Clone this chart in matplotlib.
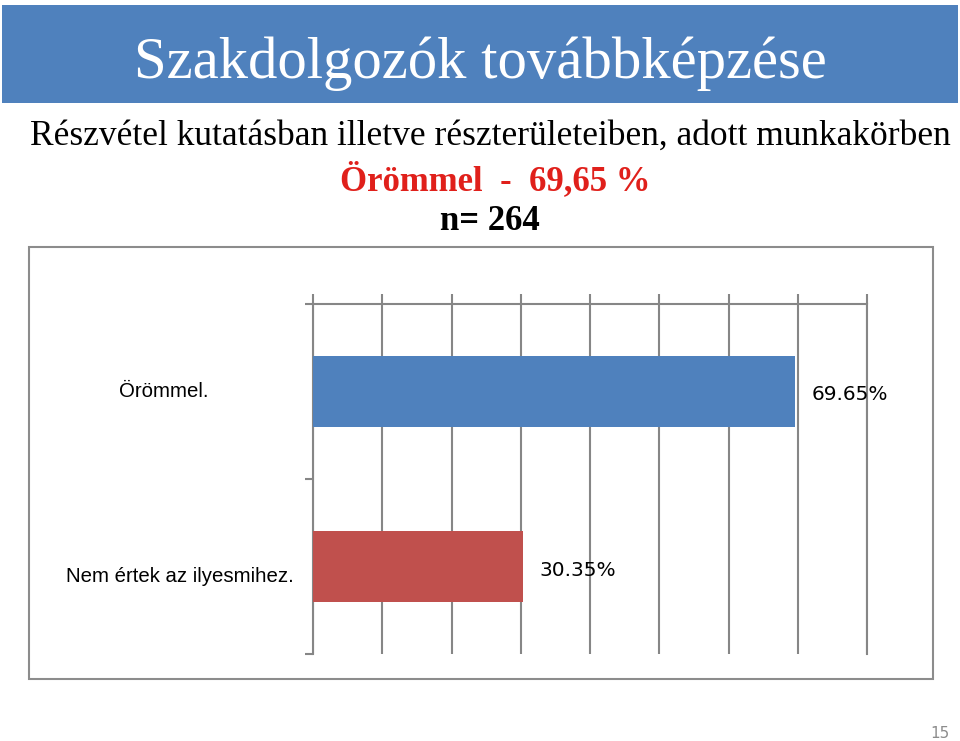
import numpy as np
import matplotlib.pyplot as plt
from matplotlib.patches import Rectangle

# data
categories = ["Örömmel.", "Nem értek az ilyesmihez."]
values = [0.6965, 0.3035]
value_labels = ["69.65%", "30.35%"]
bar_colors = ["#4F81BD", "#C0504D"]

title = "Szakdolgozók továbbképzése"
subtitle = "Részvétel kutatásban illetve részterületeiben, adott munkakörben"
highlight = "Örömmel  -  69,65 %"
sample = "n= 264"

W, H = 960, 741

def fx(x):
    return x / W

def fy(y):
    return 1 - y / H

fig = plt.figure(figsize=(9.6, 7.41), dpi=100)
fig.patch.set_facecolor("white")

# header band
fig.patches.append(Rectangle((fx(2), fy(103)), fx(956), (98) / H,
                             transform=fig.transFigure, facecolor="#4F81BD",
                             edgecolor="none", zorder=0))
fig.text(fx(480), fy(78), title, ha="center", va="baseline", color="white",
         fontsize=42.3, family="Liberation Serif")

fig.text(fx(490), fy(145), subtitle, ha="center", va="baseline", color="black",
         fontsize=25.5, family="Liberation Serif")
fig.text(fx(495), fy(190), highlight, ha="center", va="baseline", color="#E0201B",
         fontsize=25, fontweight="bold", family="Liberation Serif")
fig.text(fx(490), fy(230), sample, ha="center", va="baseline", color="black",
         fontsize=25, fontweight="bold", family="Liberation Serif")

# chart frame
fig.patches.append(Rectangle((fx(29), fy(679)), fx(904), (432) / H,
                             transform=fig.transFigure, facecolor="none",
                             edgecolor="#8C8C8C", linewidth=1.5, zorder=0))

ax_l, ax_r = 313, 867
ax = fig.add_axes([fx(ax_l), fy(654), fx(ax_r - ax_l), (654 - 304) / H])
y = np.arange(len(categories))
ax.barh(y, values, height=0.41, color=bar_colors, zorder=3)

ax.set_xlim(0, 0.8)
ax.set_ylim(1.5, -0.5)
ax.set_xticks(np.arange(0, 0.81, 0.1))
ax.set_yticks([-0.5, 0.5, 1.5])
ax.xaxis.tick_top()
ax.tick_params(axis="x", direction="out", length=7, width=1.5, color="#868686",
               labeltop=False, labelbottom=False)
ax.tick_params(axis="y", direction="out", length=6, width=1.5, color="#868686",
               labelleft=False)
ax.grid(axis="x", color="#868686", linewidth=1.5, zorder=0)
ax.spines["bottom"].set_visible(False)
for s in ["top", "left", "right"]:
    ax.spines[s].set_color("#868686")
    ax.spines[s].set_linewidth(1.5)

# value labels
for yi, v, lab in zip(y, values, value_labels):
    ax.text(v + 0.023, yi + 0.02, lab, ha="left", va="center", fontsize=14.5,
            family="DejaVu Sans")

# category labels (x in pixels, converted to axes fraction)
cat_x = [164, 180]
cat_off = [0.0, 0.06]
for yi, lab, cx, off in zip(y, categories, cat_x, cat_off):
    ax.text((cx - ax_l) / (ax_r - ax_l), yi + off, lab,
            transform=ax.get_yaxis_transform(),
            ha="center", va="center", fontsize=14.7, family="Liberation Sans")

fig.text(fx(940), fy(738), "15", ha="center", va="baseline", color="#8C8C8C",
         fontsize=11, family="DejaVu Sans")

fig.savefig("out.png", dpi=100)
